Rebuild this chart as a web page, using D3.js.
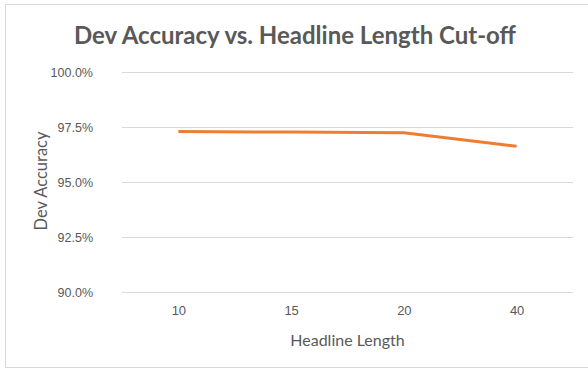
<!DOCTYPE html>
<html>
<head>
<meta charset="utf-8">
<script src="https://cdn.jsdelivr.net/npm/d3@7"></script>
<style>
  body { margin: 0; background: #fff; }
  svg { display: block; font-family: Lato, "Open Sans", sans-serif; }
</style>
</head>
<body>
<div id="chart"></div>
<script>
const categories = ["10", "15", "20", "40"];
const accuracy = [0.9729, 0.9727, 0.9724, 0.9662];
const yTicks = [0.90, 0.925, 0.95, 0.975, 1.0];

const width = 588;
const height = 371;
const margin = { top: 72, right: 15, bottom: 79, left: 122 };

const svg = d3.select("#chart")
    .append("svg")
    .attr("width", width)
    .attr("height", height);

svg.append("rect")
    .attr("x", 5.5)
    .attr("y", 4.5)
    .attr("width", 600)
    .attr("height", 363)
    .attr("fill", "#fff")
    .attr("stroke", "#d9d9d9");

const x = d3.scalePoint()
    .domain(categories)
    .range([margin.left, width - margin.right])
    .padding(0.5);

const y = d3.scaleLinear()
    .domain([0.90, 1.0])
    .range([height - margin.bottom, margin.top]);

// gridlines
svg.append("g")
    .selectAll("line")
    .data(yTicks)
    .enter()
    .append("line")
    .attr("x1", margin.left)
    .attr("x2", width - margin.right)
    .attr("y1", d => Math.round(y(d)) + 0.5)
    .attr("y2", d => Math.round(y(d)) + 0.5)
    .attr("stroke", "#d9d9d9")
    .attr("stroke-width", 1);

const yAxis = svg.append("g")
    .attr("transform", `translate(${margin.left},0)`)
    .call(d3.axisLeft(y).tickValues(yTicks).tickFormat(d3.format(".1%")).tickSize(0).tickPadding(29));
yAxis.select(".domain").remove();
yAxis.selectAll("text")
    .style("font-size", "12.5px")
    .style("fill", "#595959");

const xAxis = svg.append("g")
    .attr("transform", `translate(0,${height - margin.bottom})`)
    .call(d3.axisBottom(x).tickSize(0).tickPadding(14));
xAxis.select(".domain").remove();
xAxis.selectAll("text")
    .style("font-size", "13px")
    .style("fill", "#595959");

const line = d3.line()
    .x((d, i) => x(categories[i]))
    .y(d => y(d));

svg.append("path")
    .datum(accuracy)
    .attr("fill", "none")
    .attr("stroke", "#ed7d31")
    .attr("stroke-width", 3)
    .attr("stroke-linejoin", "round")
    .attr("d", line);

svg.append("text")
    .attr("x", 295)
    .attr("y", 44)
    .attr("text-anchor", "middle")
    .style("font-size", "24px")
    .style("font-weight", "bold")
    .style("fill", "#595959")
    .text("Dev Accuracy vs. Headline Length Cut-off");

svg.append("text")
    .attr("x", (margin.left + width - margin.right) / 2)
    .attr("y", 346)
    .attr("text-anchor", "middle")
    .style("font-size", "16px")
    .style("fill", "#595959")
    .text("Headline Length");

svg.append("text")
    .attr("transform", "translate(47,181) rotate(-90)")
    .attr("text-anchor", "middle")
    .style("font-size", "16.5px")
    .style("fill", "#595959")
    .text("Dev Accuracy");
</script>
</body>
</html>
